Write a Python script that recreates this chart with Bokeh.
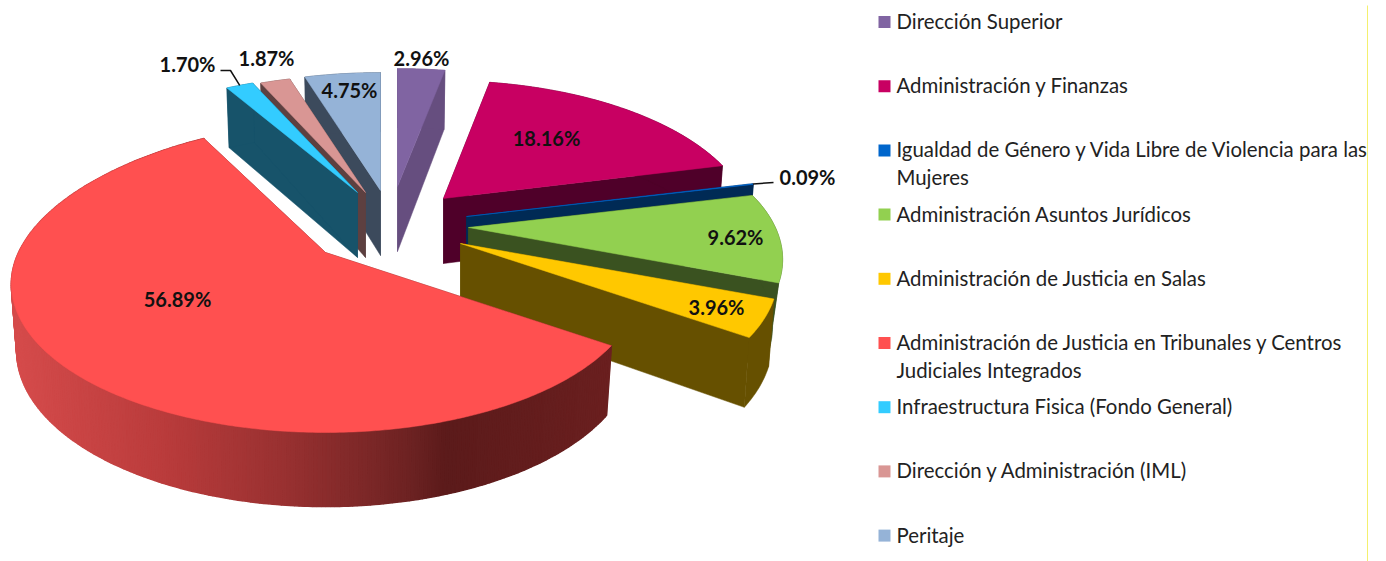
import numpy as np
from bokeh.plotting import figure
from bokeh.core.properties import value
from bokeh.embed import file_html
from bokeh.resources import INLINE
from bokeh.models import Range1d

# ---- data ----
legend_lines = [
    ["Dirección Superior"],
    ["Administración y Finanzas"],
    ["Igualdad de Género y Vida Libre de Violencia para las", "Mujeres"],
    ["Administración Asuntos Jurídicos"],
    ["Administración de Justicia en Salas"],
    ["Administración de Justicia en Tribunales y Centros", "Judiciales Integrados"],
    ["Infraestructura Fisica (Fondo General)"],
    ["Dirección y Administración (IML)"],
    ["Peritaje"],
]
shares = [2.96, 18.16, 0.09, 9.62, 3.96, 56.89, 1.70, 1.87, 4.75]
top_colors = ["#8064A2", "#C80062", "#0066CC", "#92D050", "#FFC800", "#FF5050", "#33CCFF", "#D99694", "#95B3D7"]
wall_colors = ["#664E7F", "#4F0029", "#002A55", "#3A5220", "#665000", "#6B2020", "#17536A", "#5D4040", "#3C4A5C"]

# ---- layout of the exploded slices (apex of each slice, in page pixels) ----
apex_x = [397, 443, 466, 468, 460, 325, 357, 365, 380]
apex_y = [186, 198, 216, 227, 243, 252, 192, 192, 190]
label_x = [421, 546, 807, 735, 716, 177, 187, 266, 349]
label_y = [57, 137, 176, 236, 306, 298, 63, 57, 89]
draw_order = [0, 8, 7, 6, 1, 2, 3, 4, 5]
A, B, K = 310.0, 143.0, 0.2135
DEPTH, STRETCH_Y = 65.0, 1.05
shrink_x = [0.983, 0.983, 0.983, 0.968, 0.983, 0.983, 0.983, 0.983, 0.983]
scale_x = [1.0, 0.975, 1.0, 0.99, 1.0, 0.99, 1.0, 1.0, 1.0]
scale_y = [1.0, 1.0, 1.0, 1.0, 1.0, 0.99, 1.0, 1.0, 1.0]
red_stops_x = [10, 163, 286, 408, 445, 610]
red_stops_rgb = [(0xD6, 0x4C, 0x4C), (0xBA, 0x3C, 0x3C), (0x98, 0x31, 0x31), (0x6E, 0x23, 0x23), (0x5C, 0x1B, 0x1B), (0x6B, 0x20, 0x20)]
RED = 5


def project(i, theta_deg):
    t = np.radians(np.asarray(theta_deg, dtype=float))
    xx, yy = np.sin(t), np.cos(t)
    w = 1 + K * yy
    dx, dy = scale_x[i] * A * xx / w, -scale_y[i] * B * yy / w
    if i == RED:  # the big slice's far edge sits a little higher in the picture
        back = np.clip(yy, 0, None)
        dx = dx + 12 * back ** 3
        dy = dy - 14 * back ** 2
    return dx, dy


def top_pt(i, dx, dy):
    return apex_x[i] + dx, apex_y[i] + dy


def low_pt(i, dx, dy):
    return apex_x[i] + shrink_x[i] * dx, apex_y[i] + DEPTH + STRETCH_Y * dy


p = figure(width=1386, height=561, output_backend="svg", toolbar_location=None,
           x_range=Range1d(0, 1386), y_range=Range1d(561, 0),
           min_border=0, outline_line_color=None)
p.axis.visible = False
p.grid.visible = False
p.background_fill_color = "white"
p.border_fill_color = "white"

edges = np.concatenate([[0], np.cumsum(shares)]) / sum(shares) * 360.0

for i in draw_order:
    t0, t1 = edges[i], edges[i + 1]
    n = max(2, int((t1 - t0) * 1.5) + 1)
    th = np.linspace(t0, t1, n)
    dx, dy = project(i, th)
    tx, ty = top_pt(i, dx, dy)
    lx, ly = low_pt(i, dx, dy)
    ax0, ay0 = apex_x[i], apex_y[i]
    bx0, by0 = low_pt(i, 0.0, 0.0)
    wall = wall_colors[i]
    # radial walls
    for j in (0, -1):
        p.patch([ax0, tx[j], lx[j], bx0], [ay0, ty[j], ly[j], by0],
                fill_color=wall, line_color=wall, line_width=0.5)
    # outer wall
    if i == RED:
        xs, ys, cols = [], [], []
        for j in range(n - 1):
            xs.append([tx[j], tx[j + 1], lx[j + 1], lx[j]])
            ys.append([ty[j], ty[j + 1], ly[j + 1], ly[j]])
            xm = (tx[j] + tx[j + 1]) / 2
            rgb = [int(np.interp(xm, red_stops_x, [c[k] for c in red_stops_rgb])) for k in range(3)]
            cols.append("#%02X%02X%02X" % tuple(rgb))
        p.patches(xs, ys, fill_color=cols, line_color=cols, line_width=1.6)
    else:
        p.patch(list(tx) + list(lx[::-1]), list(ty) + list(ly[::-1]),
                fill_color=wall, line_color=wall, line_width=0.5)
    # top face
    p.patch([ax0] + list(tx), [ay0] + list(ty),
            fill_color=top_colors[i], line_color=top_colors[i], line_width=0.5)

# leader lines, starting at the middle of each small slice's rim
for i, elbow_x, elbow_y in [(2, [773], [182]), (6, [230, 220], [70, 70])]:
    dx, dy = project(i, (edges[i] + edges[i + 1]) / 2)
    sx, sy = top_pt(i, float(dx), float(dy))
    p.line([sx] + elbow_x, [sy] + elbow_y, line_color="#111111", line_width=1.5)

# percentage labels
p.text(label_x, label_y, text=["%.2f%%" % s for s in shares],
       text_font=value("Lato"), text_font_style="bold", text_font_size="20px",
       text_color="#111111", text_align="center", text_baseline="middle")

# legend
LEG_X, LEG_Y0, LEG_STEP, LEG_LINE = 884, 21.5, 64.2, 28
square_y = [LEG_Y0 + LEG_STEP * i for i in range(len(shares))]
p.scatter([LEG_X] * len(shares), square_y, marker="square", size=12,
          fill_color=top_colors, line_color=None)
tx_l, ty_l, tt_l = [], [], []
for i, lines in enumerate(legend_lines):
    for j, line in enumerate(lines):
        tx_l.append(896)
        ty_l.append(square_y[i] - 1 + j * LEG_LINE)
        tt_l.append(line)
p.text(tx_l, ty_l, text=tt_l, text_font=value("Lato"), text_font_size="20.4px",
       text_color="#222222", text_align="left", text_baseline="middle")

# thin frame line at the right
p.line([1367, 1367], [5, 561], line_color="#F4F06E", line_width=1)

open("out.html", "w").write(file_html(p, INLINE))
